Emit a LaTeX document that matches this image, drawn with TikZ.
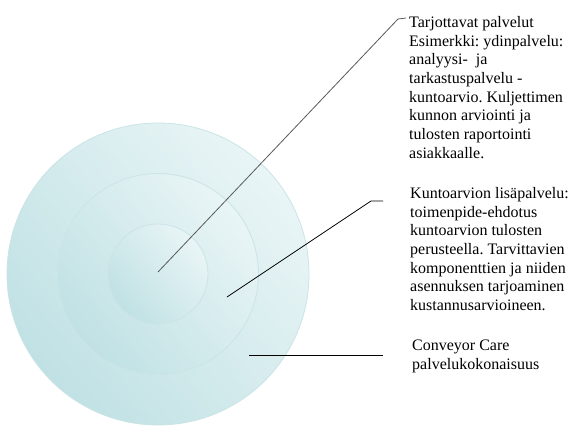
\documentclass[tikz,border=0pt]{standalone}
\usepackage{fontspec}
\setmainfont{Liberation Serif}
\begin{document}
\frenchspacing
\begin{tikzpicture}[x=1pt,y=-1pt,
  ring/.style={circle,draw=ringline,line width=0.8pt,inner sep=0pt,
               top color=ringlight,bottom color=ringdark,shading angle=-50},
  label/.style={anchor=north west,inner sep=0pt,align=left,
               font=\rmfamily\frenchspacing\fontsize{16}{18.7}\selectfont},
  leader/.style={line width=0.8pt}]
\definecolor{ringline}{HTML}{CBE4E6}
\definecolor{ringlight}{HTML}{E9F5F6}
\definecolor{ringdark}{HTML}{C0E1E4}
\useasboundingbox (0,0) rectangle (568,434);
\fill[white] (0,0) rectangle (568,434);
\node[ring,minimum size=302pt] (outer) at (158,274) {};
\node[ring,minimum size=201pt] (middle) at (158,274) {};
\node[ring,minimum size=100pt] (inner) at (158,274) {};
\node[label] (t1) at (409,16) {Tarjottavat palvelut\\Esimerkki: ydinpalvelu:\\analyysi- \ ja\\tarkastuspalvelu -\\kuntoarvio. Kuljettimen\\kunnon arviointi ja\\tulosten raportointi\\asiakkaalle.};
\node[label] (t2) at (410,187) {Kuntoarvion lisäpalvelu:\\toimenpide-ehdotus\\kuntoarvion tulosten\\perusteella. Tarvittavien\\komponenttien ja niiden\\asennuksen tarjoaminen\\kustannusarvioineen.};
\node[label] (t3) at (412,340) {Conveyor Care\\palvelukokonaisuus};
\coordinate (p1) at (158,272);
\coordinate (k1) at (398,19);
\coordinate (e1) at (406,18);
\coordinate (p2) at (227,297);
\coordinate (k2) at (371,201);
\coordinate (e2) at (383,201);
\coordinate (p3) at (249,355);
\coordinate (e3) at (383,355);
\draw[leader,draw=black!65] (p1) -- (k1) -- (e1);
\draw[leader] (p2) -- (k2) -- (e2);
\draw[leader] (p3) -- (e3);
\end{tikzpicture}
\end{document}
